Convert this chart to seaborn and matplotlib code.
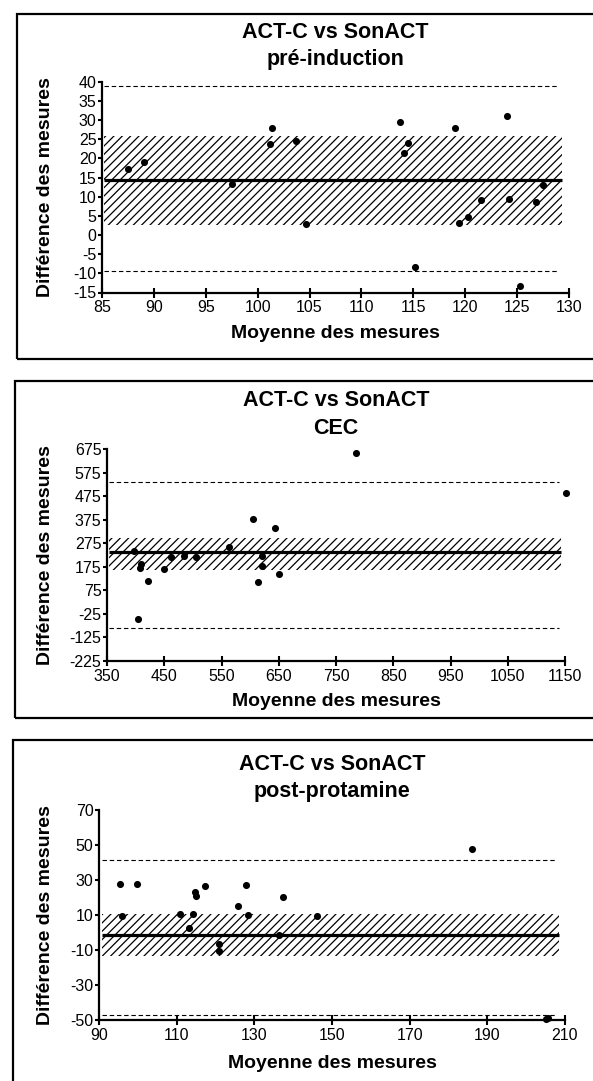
#!/usr/bin/env python3
"""
Bland-Altman : ACT-C vs SonACT (pré-induction, CEC, post-protamine)
"""

import numpy as np
import pandas as pd
import matplotlib
matplotlib.use('Agg')
import matplotlib.pyplot as plt
from matplotlib.patches import Rectangle
import seaborn as sns

sns.set_style('ticks')
plt.rcParams['font.family'] = ['Liberation Sans', 'DejaVu Sans']
plt.rcParams['hatch.linewidth'] = 0.9
plt.rcParams['hatch.color'] = 'black'
plt.rcParams['axes.unicode_minus'] = False
for k in ['text.color', 'axes.labelcolor', 'xtick.color', 'ytick.color', 'axes.edgecolor']:
    plt.rcParams[k] = 'black'

# ──────────────────────────────────────────────────────────────────────
# Données
# ──────────────────────────────────────────────────────────────────────

titles = ['pré-induction', 'CEC', 'post-protamine']

# pré-induction
pre_moy = [87.5, 89.0, 97.5, 101.2, 101.4, 103.7, 104.7, 113.7, 114.1, 114.5,
           115.2, 119.0, 119.4, 120.3, 121.5, 124.0, 124.2, 125.3, 126.8, 127.5]
pre_diff = [17.2, 19.1, 13.4, 23.7, 28.0, 24.6, 2.8, 29.5, 21.5, 24.1,
            -8.4, 28.0, 3.1, 4.6, 9.2, 31.0, 9.4, -13.4, 8.5, 13.1]
pre_biais = 14.4
pre_ic = [2.6, 25.9]
pre_lim = [-9.3, 39.0]
pre_xspan = [85.2, 129.3]

# CEC
cec_moy = [397, 404, 410, 408, 422, 449, 462, 484, 505, 563,
           605, 614, 620, 620, 644, 650, 785, 1151]
cec_diff = [242, -45, 185, 168, 116, 165, 215, 222, 218, 260,
            378, 110, 222, 178, 339, 145, 659, 489]
cec_biais = 239
cec_ic = [161, 296]
cec_lim = [-84, 537]
cec_xspan = [353, 1143]

# post-protamine
post_moy = [95.5, 95.8, 99.7, 110.8, 113.2, 114.2, 114.7, 115.1, 117.4, 120.9,
            120.9, 125.7, 127.9, 128.4, 136.3, 137.4, 146.1, 186.1, 205.1, 205.6]
post_diff = [27.6, 9.2, 28.0, 10.4, 2.7, 10.4, 23.4, 20.9, 26.6, -6.6,
             -10.6, 15.3, 27.4, 9.8, -1.7, 20.3, 9.4, 47.6, -49.4, -49.0]
post_biais = -1.7
post_ic = [-13.7, 10.8]
post_lim = [-47.3, 41.3]
post_xspan = [90.8, 208.5]

pre_xticks = list(range(85, 131, 5))
pre_yticks = list(range(-15, 41, 5))
cec_xticks = list(range(350, 1151, 100))
cec_yticks = list(range(-225, 676, 100))
post_xticks = list(range(90, 211, 20))
post_yticks = list(range(-50, 71, 20))

# ──────────────────────────────────────────────────────────────────────
# Mise en page (pixels de l'image 593 x 1081)
# ──────────────────────────────────────────────────────────────────────

W, H = 593, 1081

def fx(px):
    return px / W

def fy(py):
    return 1 - py / H

panels = [
    dict(moy=pre_moy, diff=pre_diff, biais=pre_biais, ic=pre_ic, lim=pre_lim,
         xspan=pre_xspan, xticks=pre_xticks, yticks=pre_yticks, title=titles[0],
         ax=(102, 569, 81.7, 292.5), frame=(17, 14, 359), t1=32, t2=60, xl=333),
    dict(moy=cec_moy, diff=cec_diff, biais=cec_biais, ic=cec_ic, lim=cec_lim,
         xspan=cec_xspan, xticks=cec_xticks, yticks=cec_yticks, title=titles[1],
         ax=(107, 565, 449, 661), frame=(15, 381, 718), t1=400, t2=428, xl=702),
    dict(moy=post_moy, diff=post_diff, biais=post_biais, ic=post_ic, lim=post_lim,
         xspan=post_xspan, xticks=post_xticks, yticks=post_yticks, title=titles[2],
         ax=(99, 565, 810, 1020), frame=(13, 740, 1090), t1=765, t2=792, xl=1063),
]

fig = plt.figure(figsize=(W / 100, H / 100), dpi=100)

for p in panels:
    x0, x1, y0, y1 = p['ax']
    ax = fig.add_axes([fx(x0), fy(y1), fx(x1) - fx(x0), (y1 - y0) / H])

    # cadre autour du panneau
    fl, ft, fb = p['frame']
    fig.patches.append(Rectangle((fx(fl), fy(fb)), 1.2, (fb - ft) / H,
                                 transform=fig.transFigure, fill=False,
                                 edgecolor='black', linewidth=1.6, zorder=0))

    xa, xb = p['xspan']
    ax.fill_between([xa, xb], p['ic'][0], p['ic'][1], facecolor='none',
                    edgecolor='black', hatch='////', linewidth=0, zorder=1)
    ax.hlines(p['biais'], xa, xb, colors='black', linewidth=2.3, zorder=2)
    ax.hlines(p['lim'], xa, xb - (xb - xa) * 0.005, colors='black',
              linewidth=0.8, linestyles=(0, (4, 2.5)), zorder=2)

    df = pd.DataFrame({'moy': p['moy'], 'diff': p['diff']})
    sns.scatterplot(data=df, x='moy', y='diff', ax=ax, color='black',
                    s=26, edgecolor='black', linewidth=0, zorder=3,
                    clip_on=False)

    ax.set_xlim(p['xticks'][0], p['xticks'][-1])
    ax.set_ylim(p['yticks'][0], p['yticks'][-1])
    ax.set_xticks(p['xticks'])
    ax.set_yticks(p['yticks'])
    ax.set_xlabel('')
    ax.set_ylabel('')
    ax.patch.set_alpha(0)
    for s in ['top', 'right']:
        ax.spines[s].set_visible(False)
    for s in ['left', 'bottom']:
        ax.spines[s].set_linewidth(1.6)
    ax.tick_params(axis='x', direction='inout', length=7, width=1.5,
                   labelsize=11.5, pad=2)
    ax.tick_params(axis='y', direction='out', length=3, width=1.5,
                   labelsize=11.5, pad=1)

    xc = fx((x0 + x1) / 2)
    fig.text(xc, fy(p['t1']), 'ACT-C vs SonACT', ha='center', va='center',
             fontsize=15.5, fontweight='bold')
    fig.text(xc, fy(p['t2']), p['title'], ha='center', va='center',
             fontsize=15.5, fontweight='bold')
    fig.text(xc, fy(p['xl']), 'Moyenne des mesures', ha='center', va='center',
             fontsize=14, fontweight='bold')
    fig.text(fx(46), fy((y0 + y1) / 2), 'Différence des mesures', ha='center',
             va='center', rotation=90, fontsize=14, fontweight='bold')

fig.savefig('out.png', dpi=100)
